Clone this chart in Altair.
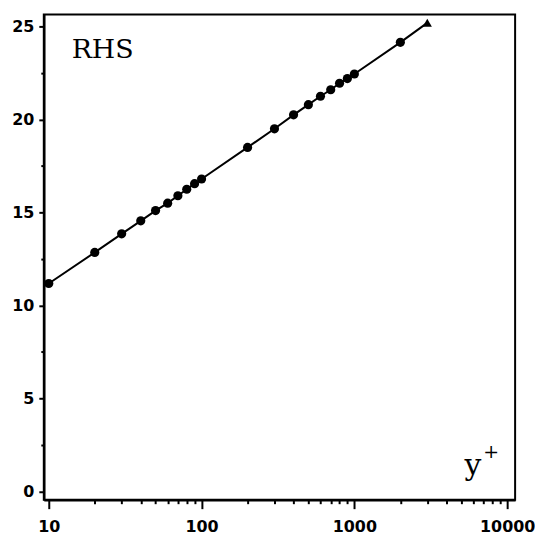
import altair as alt
import pandas as pd

# Data
yplus = [10, 20, 30, 40, 50, 60, 70, 80, 90, 100,
         200, 300, 400, 500, 600, 700, 800, 900, 1000, 2000, 3000]
uplus = [11.18, 12.85, 13.85, 14.55, 15.1, 15.5, 15.9, 16.25, 16.55, 16.8,
         18.5, 19.5, 20.25, 20.8, 21.25, 21.6, 21.95, 22.2, 22.45, 24.15, 25.2]
marker = ["circle"] * 20 + ["triangle-up"]

x_major = [10, 100, 1000, 10000]
x_minor = [20, 30, 40, 50, 60, 70, 80, 90,
           200, 300, 400, 500, 600, 700, 800, 900,
           2000, 3000, 4000, 5000, 6000, 7000, 8000, 9000]
y_major = [0, 5, 10, 15, 20, 25]
y_minor = [2.5, 7.5, 12.5, 17.5, 22.5]

panel_label = ["RHS"]
axis_label_main = ["y"]
axis_label_sup = ["+"]

df = pd.DataFrame({"yplus": yplus, "uplus": uplus, "marker": marker})

xscale = alt.Scale(type="log", domain=[9.28, 11270], nice=False)
yscale = alt.Scale(domain=[-0.45, 25.65], nice=False, zero=False)

label_font = "DejaVu Sans"

line = alt.Chart(df).mark_line(color="black", strokeWidth=2).encode(
    x=alt.X("yplus:Q", scale=xscale, title=None,
            axis=alt.Axis(values=x_major, format="d", orient="bottom",
                          tickSize=9, tickWidth=2, tickColor="black",
                          domainColor="black", domainWidth=2.5,
                          labelFont=label_font, labelFontSize=16,
                          labelFontWeight="bold", labelColor="black",
                          labelPadding=10, grid=False, labelFlush=False)),
    y=alt.Y("uplus:Q", scale=yscale, title=None,
            axis=alt.Axis(values=y_major, orient="left",
                          tickSize=5, tickWidth=2, tickColor="black",
                          domainColor="black", domainWidth=2.5,
                          labelFont=label_font, labelFontSize=16,
                          labelFontWeight="bold", labelColor="black",
                          labelPadding=5, grid=False)),
)

points = alt.Chart(df).mark_point(filled=True, color="black", size=85, opacity=1).encode(
    x=alt.X("yplus:Q", scale=xscale, title=None,
            axis=alt.Axis(values=x_minor, orient="bottom", labels=False,
                          domain=False, tickSize=4, tickWidth=2,
                          tickColor="black", grid=False)),
    y=alt.Y("uplus:Q", scale=yscale, title=None,
            axis=alt.Axis(values=y_minor, orient="left", labels=False,
                          domain=False, tickSize=3, tickWidth=2,
                          tickColor="black", grid=False)),
    shape=alt.Shape("marker:N", scale=None, legend=None),
)

rhs = alt.Chart(pd.DataFrame({"t": panel_label})).mark_text(
    font="DejaVu Serif", fontSize=27, align="left", baseline="alphabetic",
    color="black").encode(x=alt.value(28), y=alt.value(44), text="t:N")

ylab = alt.Chart(pd.DataFrame({"t": axis_label_main})).mark_text(
    font="DejaVu Serif", fontSize=30, align="left", baseline="alphabetic",
    color="black").encode(x=alt.value(423), y=alt.value(463), text="t:N")

ysup = alt.Chart(pd.DataFrame({"t": axis_label_sup})).mark_text(
    font="DejaVu Serif", fontSize=19, align="center", baseline="middle",
    color="black").encode(x=alt.value(450), y=alt.value(440), text="t:N")

chart = alt.layer(line, points, rhs, ylab, ysup).resolve_axis(
    x="independent", y="independent"
).properties(
    width=474, height=488,
    autosize=alt.AutoSizeParams(type="none"),
    padding={"left": 36, "top": 5, "right": 20, "bottom": 36},
).configure_view(stroke="black", strokeWidth=2)

chart.save("out.html", embed_options={"renderer": "svg", "actions": False})
